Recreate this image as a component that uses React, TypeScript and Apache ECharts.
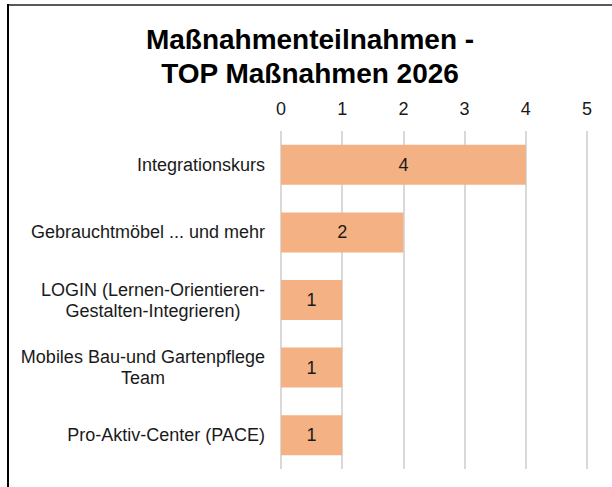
import React, { useEffect, useRef } from "react";
import * as echarts from "echarts";

const categories = [
  "Integrationskurs",
  "Gebrauchtmöbel ... und mehr",
  "LOGIN (Lernen-Orientieren-\nGestalten-Integrieren)",
  "Mobiles Bau-und Gartenpflege\nTeam",
  "Pro-Aktiv-Center (PACE)",
];
const values = [4, 2, 1, 1, 1];
const titleText = "Maßnahmenteilnahmen -\nTOP Maßnahmen 2026";

const FONT = "'Liberation Sans', Arial, sans-serif";

export default function App() {
  const ref = useRef<HTMLDivElement>(null);
  useEffect(() => {
    document.body.style.margin = "0";
    const chart = echarts.init(ref.current!, null, { renderer: "svg" });
    chart.setOption({
      animation: false,
      backgroundColor: "#ffffff",
      title: {
        text: titleText,
        left: 305,
        top: 17,
        textAlign: "center",
        textStyle: {
          fontFamily: FONT,
          fontSize: 28,
          fontWeight: "bold",
          lineHeight: 34,
          color: "#000000",
        },
      },
      graphic: [
        {
          type: "line",
          shape: { x1: 8, y1: 5, x2: 612, y2: 5 },
          style: { stroke: "#595959", lineWidth: 2 },
        },
        {
          type: "line",
          shape: { x1: 8, y1: 4, x2: 8, y2: 487 },
          style: { stroke: "#000000", lineWidth: 2 },
        },
      ],
      grid: { left: 281, right: 25, top: 131, bottom: 18, containLabel: false },
      xAxis: {
        type: "value",
        position: "top",
        min: 0,
        max: 5,
        interval: 1,
        axisLine: { show: false },
        axisTick: { show: false },
        splitLine: { show: true, lineStyle: { color: "#d9d9d9", width: 2 } },
        axisLabel: {
          margin: 13,
          fontFamily: FONT,
          fontSize: 18,
          color: "#1a1a1a",
        },
      },
      yAxis: {
        type: "category",
        data: categories,
        inverse: true,
        axisLine: { show: false },
        axisTick: { show: false },
        axisLabel: {
          margin: 16,
          align: "right",
          formatter: (v: string) =>
            v
              .split("\n")
              .map((l) => `{c|${l}}`)
              .join("\n"),
          rich: {
            c: {
              align: "center",
              fontFamily: FONT,
              fontSize: 18,
              lineHeight: 21,
              color: "#1a1a1a",
            },
          },
        },
      },
      series: [
        {
          type: "bar",
          data: values,
          barWidth: 40,
          itemStyle: { color: "#F4B183" },
          label: {
            show: true,
            position: "inside",
            fontFamily: FONT,
            fontSize: 18,
            color: "#1a1a1a",
          },
        },
      ],
    });
    return () => chart.dispose();
  }, []);
  return (
    <div
      ref={ref}
      style={{ position: "absolute", left: 0, top: 0, width: 612, height: 487 }}
    />
  );
}
